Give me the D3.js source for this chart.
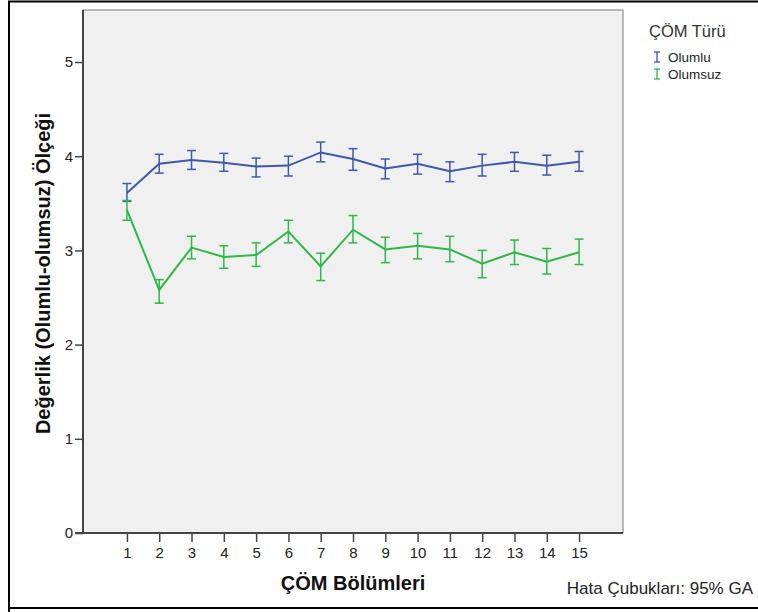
<!DOCTYPE html>
<html>
<head>
<meta charset="utf-8">
<script src="https://cdn.jsdelivr.net/npm/d3@7"></script>
<style>
  html, body { margin: 0; padding: 0; background: #fff; }
  svg { display: block; font-family: "Liberation Sans", Arial, sans-serif; }
</style>
</head>
<body>
<svg id="chart" width="758" height="612"></svg>
<script>
// Department numbers on the x axis
const categories = [1, 2, 3, 4, 5, 6, 7, 8, 9, 10, 11, 12, 13, 14, 15];
const yTicks = [0, 1, 2, 3, 4, 5];

// Mean scores with 95% confidence interval bounds
const olumluMean  = [3.61, 3.92, 3.96, 3.93, 3.89, 3.90, 4.04, 3.97, 3.87, 3.92, 3.84, 3.90, 3.94, 3.90, 3.94];
const olumluLow   = [3.52, 3.82, 3.86, 3.84, 3.78, 3.79, 3.94, 3.85, 3.76, 3.81, 3.73, 3.79, 3.84, 3.80, 3.84];
const olumluHigh  = [3.71, 4.02, 4.06, 4.03, 3.98, 4.00, 4.15, 4.08, 3.97, 4.02, 3.94, 4.02, 4.04, 4.01, 4.05];

const olumsuzMean = [3.43, 2.58, 3.03, 2.93, 2.95, 3.20, 2.83, 3.22, 3.01, 3.05, 3.01, 2.86, 2.98, 2.88, 2.98];
const olumsuzLow  = [3.32, 2.44, 2.91, 2.81, 2.83, 3.08, 2.68, 3.08, 2.87, 2.91, 2.88, 2.71, 2.85, 2.75, 2.85];
const olumsuzHigh = [3.53, 2.69, 3.15, 3.05, 3.08, 3.32, 2.97, 3.37, 3.14, 3.18, 3.15, 3.00, 3.11, 3.02, 3.12];

const seriesNames = ["Olumlu", "Olumsuz"];
const seriesColors = ["#3e58ac", "#2eb848"];

const series = [
  { name: seriesNames[0], color: seriesColors[0], mean: olumluMean, low: olumluLow, high: olumluHigh },
  { name: seriesNames[1], color: seriesColors[1], mean: olumsuzMean, low: olumsuzLow, high: olumsuzHigh }
];

const svg = d3.select("#chart");
const FONT = "'Liberation Sans', Arial, sans-serif";

// Outer frame
svg.append("path")
  .attr("d", "M9,614 V1.5 H760")
  .attr("fill", "none").attr("stroke", "#000").attr("stroke-width", 2);
svg.append("line")
  .attr("x1", 9).attr("x2", 760).attr("y1", 608).attr("y2", 608)
  .attr("stroke", "#000").attr("stroke-width", 2);

const plot = { left: 83, top: 10, right: 623, bottom: 533 };

const pad = 1.36;
const x = d3.scaleLinear()
  .domain([categories[0] - pad, categories[categories.length - 1] + pad])
  .range([plot.left, plot.right]);
const y = d3.scaleLinear().domain([0, 5]).range([plot.bottom, 62]);

// Plot background
svg.append("rect")
  .attr("x", plot.left).attr("y", plot.top)
  .attr("width", plot.right - plot.left).attr("height", plot.bottom - plot.top)
  .attr("fill", "#f0f0f0").attr("stroke", "#7a7a7a").attr("stroke-width", 1);

// Y axis
const yAxis = svg.append("g")
  .attr("transform", `translate(${plot.left},0)`)
  .call(d3.axisLeft(y).tickValues(yTicks).tickSize(8).tickPadding(2).tickFormat(d3.format("d")));
yAxis.select(".domain").attr("stroke", "#444").attr("stroke-width", 2)
  .attr("d", `M0,${plot.top}V${plot.bottom}`);
yAxis.selectAll(".tick line").attr("stroke", "#444").attr("stroke-width", 1.5);
yAxis.selectAll(".tick text").attr("font-size", 15).attr("fill", "#222")
  .attr("font-family", FONT);

// X axis
const xAxis = svg.append("g")
  .attr("transform", `translate(0,${plot.bottom})`)
  .call(d3.axisBottom(x).tickValues(categories).tickSize(9).tickPadding(6).tickFormat(d3.format("d")));
xAxis.select(".domain").attr("stroke", "#444").attr("stroke-width", 2)
  .attr("d", `M${plot.left - 8},0H${plot.right}`);
xAxis.selectAll(".tick line").attr("stroke", "#444").attr("stroke-width", 1.5);
xAxis.selectAll(".tick text").attr("font-size", 15).attr("fill", "#222")
  .attr("font-family", FONT).attr("dy", null).attr("y", 25);

// Axis titles
svg.append("text")
  .attr("x", (plot.left + plot.right) / 2).attr("y", 590)
  .attr("text-anchor", "middle").attr("font-size", 20).attr("font-weight", "bold")
  .attr("fill", "#111").text("ÇÖM Bölümleri");

svg.append("text")
  .attr("transform", `translate(50,${(plot.top + plot.bottom) / 2 + 2}) rotate(-90)`)
  .attr("text-anchor", "middle").attr("font-size", 20).attr("font-weight", "bold")
  .attr("fill", "#111").text("Değerlik (Olumlu-olumsuz) Ölçeği");

svg.append("text")
  .attr("x", 753).attr("y", 594)
  .attr("text-anchor", "end").attr("font-size", 17)
  .attr("fill", "#222").text("Hata Çubukları: 95% GA");

// Lines and error bars
const line = d3.line()
  .x((d, i) => x(categories[i]))
  .y(d => y(d));

const cap = 4.5;
series.forEach(s => {
  const g = svg.append("g");
  g.append("path")
    .datum(s.mean)
    .attr("d", line)
    .attr("fill", "none").attr("stroke", s.color).attr("stroke-width", 2);

  const bars = g.selectAll(".bar").data(categories).join("g").attr("class", "bar");
  bars.append("line")
    .attr("x1", d => x(d)).attr("x2", d => x(d))
    .attr("y1", (d, i) => y(s.low[i])).attr("y2", (d, i) => y(s.high[i]))
    .attr("stroke", s.color).attr("stroke-width", 1.5);
  bars.append("line")
    .attr("x1", d => x(d) - cap).attr("x2", d => x(d) + cap)
    .attr("y1", (d, i) => y(s.high[i])).attr("y2", (d, i) => y(s.high[i]))
    .attr("stroke", s.color).attr("stroke-width", 1.5);
  bars.append("line")
    .attr("x1", d => x(d) - cap).attr("x2", d => x(d) + cap)
    .attr("y1", (d, i) => y(s.low[i])).attr("y2", (d, i) => y(s.low[i]))
    .attr("stroke", s.color).attr("stroke-width", 1.5);
});

// Legend
const legend = svg.append("g");
legend.append("text")
  .attr("x", 649).attr("y", 37).attr("font-size", 16.5).attr("fill", "#333")
  .text("ÇÖM Türü");
series.forEach((s, i) => {
  const ly = 57 + i * 17;
  const lx = 657;
  const item = legend.append("g");
  item.append("line").attr("x1", lx).attr("x2", lx).attr("y1", ly - 5).attr("y2", ly + 5)
    .attr("stroke", s.color).attr("stroke-width", 1.3);
  item.append("line").attr("x1", lx - 3).attr("x2", lx + 3).attr("y1", ly - 5).attr("y2", ly - 5)
    .attr("stroke", s.color).attr("stroke-width", 1.3);
  item.append("line").attr("x1", lx - 3).attr("x2", lx + 3).attr("y1", ly + 5).attr("y2", ly + 5)
    .attr("stroke", s.color).attr("stroke-width", 1.3);
  item.append("text").attr("x", 668).attr("y", ly + 5).attr("font-size", 13.5).attr("fill", "#222")
    .text(s.name);
});
</script>
</body>
</html>
